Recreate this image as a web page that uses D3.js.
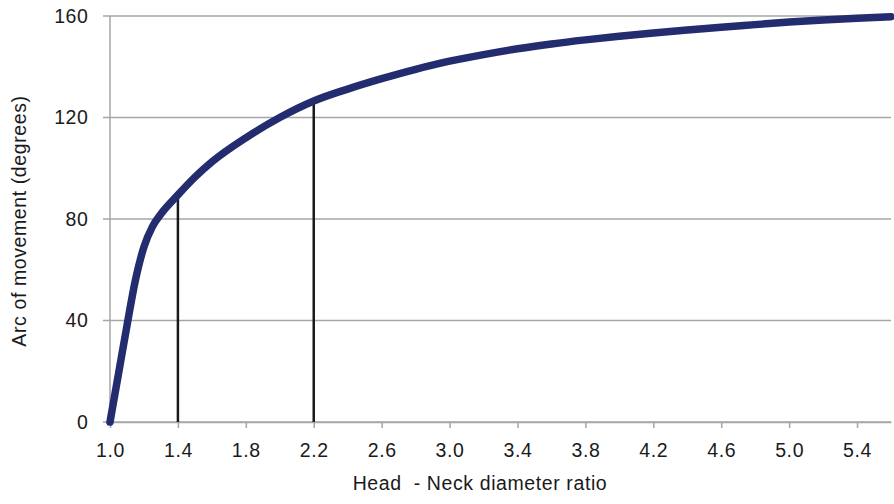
<!DOCTYPE html>
<html>
<head>
<meta charset="utf-8">
<script src="https://cdn.jsdelivr.net/npm/d3@7"></script>
<style>
  html, body { margin: 0; padding: 0; background: #fff; }
  svg { display: block; font-family: "Liberation Sans", Arial, Helvetica, sans-serif; }
  text { white-space: pre; }
</style>
</head>
<body>
<svg id="chart" width="894" height="504"></svg>
<script>
// Head-neck diameter ratio against arc of movement
const ratio = [1.0, 1.05, 1.1, 1.15, 1.2, 1.25, 1.3, 1.4, 1.5, 1.6, 1.8, 2.0, 2.2, 2.4, 2.6, 2.8, 3.0, 3.2, 3.4, 3.6, 3.8, 4.0, 4.2, 4.4, 4.6, 4.8, 5.0, 5.2, 5.4, 5.6];
const arcDeg = [0, 19, 38, 56, 69, 77, 82, 89.5, 96.5, 102.5, 112, 120, 126.5, 131.2, 135.3, 139, 142.2, 144.8, 147.1, 149, 150.6, 152, 153.3, 154.5, 155.6, 156.6, 157.6, 158.4, 159.1, 159.7];

// Reference ratios marked with vertical lines
const markers = [1.4, 2.2];
const markerArc = [89.5, 126.5];

const xTicks = [1.0, 1.4, 1.8, 2.2, 2.6, 3.0, 3.4, 3.8, 4.2, 4.6, 5.0, 5.4];
const yTicks = [0, 40, 80, 120, 160];

const xTitle = "Head  - Neck diameter ratio";
const yTitle = "Arc of movement (degrees)";

const svg = d3.select("#chart");
const plotLeft = 110, plotRight = 891, plotTop = 16, plotBottom = 422;

const x = d3.scaleLinear().domain([1.0, 5.6]).range([plotLeft, plotRight]);
const y = d3.scaleLinear().domain([0, 160]).range([plotBottom, plotTop]);

const gridColor = "#a6a6a6";
const textColor = "#1a1a1a";
const fontSize = "19.5px";
const letterSpacing = "0.6px";

// horizontal gridlines (extend left as tick marks)
svg.append("g")
  .selectAll("line")
  .data(yTicks)
  .join("line")
  .attr("x1", plotLeft - 7).attr("x2", plotRight)
  .attr("y1", d => y(d)).attr("y2", d => y(d))
  .attr("stroke", gridColor).attr("stroke-width", 1.5);

// vertical axis line
svg.append("line")
  .attr("x1", plotLeft).attr("x2", plotLeft)
  .attr("y1", plotTop).attr("y2", plotBottom)
  .attr("stroke", gridColor).attr("stroke-width", 1.5);

// x axis
const xAxis = d3.axisBottom(x)
  .tickValues(xTicks)
  .tickFormat(d3.format(".1f"))
  .tickSize(6)
  .tickPadding(15)
  .tickSizeOuter(0);
const gx = svg.append("g").attr("transform", `translate(0,${plotBottom})`).call(xAxis);
gx.select(".domain").attr("stroke", gridColor).attr("stroke-width", 1.5);
gx.selectAll(".tick line").attr("stroke", gridColor).attr("stroke-width", 1.5);
gx.selectAll(".tick text")
  .attr("fill", textColor)
  .style("font-size", fontSize)
  .style("letter-spacing", letterSpacing)
  .style("font-family", "Liberation Sans, Arial, sans-serif");

// y axis labels
const yAxis = d3.axisLeft(y)
  .tickValues(yTicks)
  .tickFormat(d3.format("d"))
  .tickSize(0)
  .tickPadding(21.5);
const gy = svg.append("g").attr("transform", `translate(${plotLeft},0)`).call(yAxis);
gy.select(".domain").remove();
gy.selectAll(".tick text")
  .attr("fill", textColor)
  .style("font-size", fontSize)
  .style("letter-spacing", letterSpacing)
  .style("font-family", "Liberation Sans, Arial, sans-serif");

// vertical marker lines up to the curve
svg.append("g")
  .selectAll("line")
  .data(markers)
  .join("line")
  .attr("x1", d => x(d)).attr("x2", d => x(d))
  .attr("y1", y(0)).attr("y2", (d, i) => y(markerArc[i]))
  .attr("stroke", textColor).attr("stroke-width", 2.5);

// main curve
const line = d3.line()
  .x((d, i) => x(ratio[i]))
  .y(d => y(d))
  .curve(d3.curveMonotoneX);
svg.append("path")
  .datum(arcDeg)
  .attr("d", line)
  .attr("fill", "none")
  .attr("stroke", "#232c6e")
  .attr("stroke-width", 7.5)
  .attr("stroke-linecap", "round")
  .attr("stroke-linejoin", "round");

// axis titles
svg.append("text")
  .attr("x", 480).attr("y", 490)
  .attr("text-anchor", "middle")
  .attr("fill", textColor)
  .style("font-size", fontSize)
  .style("letter-spacing", letterSpacing)
  .text(xTitle);

svg.append("text")
  .attr("transform", `translate(25.5,221) rotate(-90)`)
  .attr("text-anchor", "middle")
  .attr("fill", textColor)
  .style("font-size", fontSize)
  .style("letter-spacing", letterSpacing)
  .text(yTitle);
</script>
</body>
</html>
